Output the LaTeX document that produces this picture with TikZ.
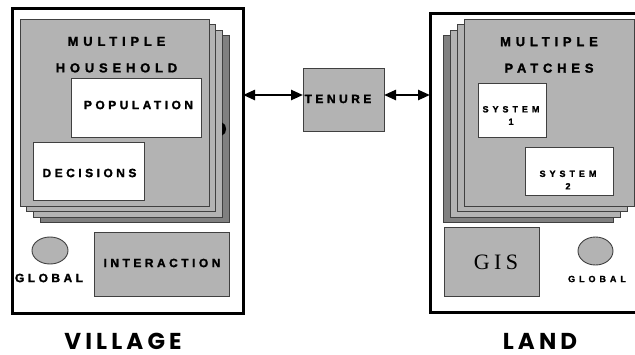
\documentclass[tikz,border=0pt]{standalone}
\usepackage{fontspec}
\usetikzlibrary{arrows.meta,shapes.geometric}
\setmainfont{Liberation Sans}
\newfontfamily\boxfont{Liberation Sans}[LetterSpace=29,FakeBold=1.6]
\newfontfamily\headfont{Liberation Sans}[LetterSpace=37,FakeBold=1.6]
\newfontfamily\smallfont{Liberation Sans}[LetterSpace=44,FakeBold=1.6]
\newfontfamily\capfont{Poppins}[LetterSpace=18]
\newfontfamily\gisfont{Liberation Serif}[LetterSpace=20]
\definecolor{paper}{RGB}{179,179,179}
\definecolor{shade}{RGB}{128,128,128}
\definecolor{edge}{RGB}{64,64,64}
\begin{document}
\begin{tikzpicture}[x=1pt,y=-1pt,
  frame/.style={draw=black,line width=3pt,inner sep=0pt,outer sep=0pt},
  sheet/.style={draw=edge,line width=0.9pt,fill=paper,inner sep=0pt,outer sep=0pt},
  backsheet/.style={sheet,fill=shade},
  whitebox/.style={draw=edge,line width=0.9pt,fill=white,inner sep=0pt,outer sep=0pt},
  graybox/.style={draw=edge,line width=0.9pt,fill=paper,inner sep=0pt,outer sep=0pt},
  oval/.style={ellipse,draw=edge,line width=0.9pt,fill=paper,inner sep=0pt},
  lbl/.style={inner sep=0pt,font=\bfseries\boxfont\fontsize{12pt}{14pt}\selectfont},
  head/.style={inner sep=0pt,align=center,font=\bfseries\headfont\fontsize{13pt}{26.5pt}\selectfont},
  small/.style={inner sep=0pt,align=center,font=\bfseries\smallfont\fontsize{9pt}{12.5pt}\selectfont},
  caption/.style={inner sep=0pt,font=\bfseries\capfont\fontsize{23pt}{26pt}\selectfont},
  link/.style={line width=2.4pt,{Triangle[length=12pt,width=10pt]}-{Triangle[length=12pt,width=10pt]}}]
\useasboundingbox[fill=white] (0,0) rectangle (635,354);
\clip (0,0) rectangle (635,354);

% ---------- village ----------
\node[frame,minimum width=231pt,minimum height=304.5pt] (vframe) at (127.5,160.75) {};
\foreach \k/\st in {3/backsheet,2/sheet,1/sheet}
  \node[\st,minimum width=189pt,minimum height=187pt] (vsheet\k) at (114.5+6.7*\k,112.5+5.5*\k) {};
% edge of an oval hidden under the stack
\fill[black] (222,122.5) .. controls (227.5,124) and (227.5,134) .. (222,135.5) -- cycle;
\node[sheet,minimum width=189pt,minimum height=187pt] (vsheet0) at (114.5,112.5) {};
\node[head] (hhead) at (116.5,54.7) {MULTIPLE\\HOUSEHOLD};
\node[whitebox,minimum width=130pt,minimum height=59pt] (pop) at (136,107.5) {};
\node[lbl] (poptext) at (138.5,105) {POPULATION};
\node[whitebox,minimum width=111pt,minimum height=58pt] (dec) at (88.5,171) {};
\node[lbl] (dectext) at (89.5,173) {DECISIONS};
\node[oval,minimum width=36pt,minimum height=27pt] (vglob) at (50,250.5) {};
\node[lbl] (vglobtext) at (49,278) {GLOBAL};
\node[graybox,minimum width=135pt,minimum height=64pt] (inter) at (161.5,264) {};
\node[lbl] (intertext) at (162,263) {INTERACTION};
\node[caption] (village) at (123,341.5) {VILLAGE};

% ---------- tenure ----------
\node[graybox,minimum width=81pt,minimum height=63pt] (tenure) at (343.5,99.5) {};
\node[lbl] (tentext) at (338,99) {TENURE};

% ---------- land ----------
\node[frame,minimum width=210pt,minimum height=298.5pt] (lframe) at (535,162.75) {};
\foreach \k/\st in {3/backsheet,2/sheet,1/sheet,0/sheet}
  \node[\st,minimum width=170pt,minimum height=187pt] (lsheet\k) at (549-6.7*\k,112.5+5.5*\k) {};
\node[head] (phead) at (549,55) {MULTIPLE\\PATCHES};
\node[whitebox,minimum width=68pt,minimum height=54pt] (sys1) at (512,110) {};
\node[small] (sys1text) at (511,115.5) {SYSTEM\\1};
\node[whitebox,minimum width=88pt,minimum height=48pt] (sys2) at (569,171) {};
\node[small] (sys2text) at (568,180) {SYSTEM\\2};
\node[graybox,minimum width=95pt,minimum height=69pt] (gis) at (491.5,261.5) {};
\node[inner sep=0pt,font=\gisfont\fontsize{22pt}{24pt}\selectfont] (gistext) at (496,262) {GIS};
\node[oval,minimum width=35pt,minimum height=28pt] (lglob) at (595.5,251) {};
\node[small] (lglobtext) at (597,279) {GLOBAL};
\node[caption] (land) at (540,341.5) {LAND};

% ---------- links ----------
\coordinate (arrowrow) at (0,95);
\draw[link] (vframe.east |- arrowrow) -- (tenure.west |- arrowrow);
\draw[link] (tenure.east |- arrowrow) -- (lframe.west |- arrowrow);
\end{tikzpicture}
\end{document}
